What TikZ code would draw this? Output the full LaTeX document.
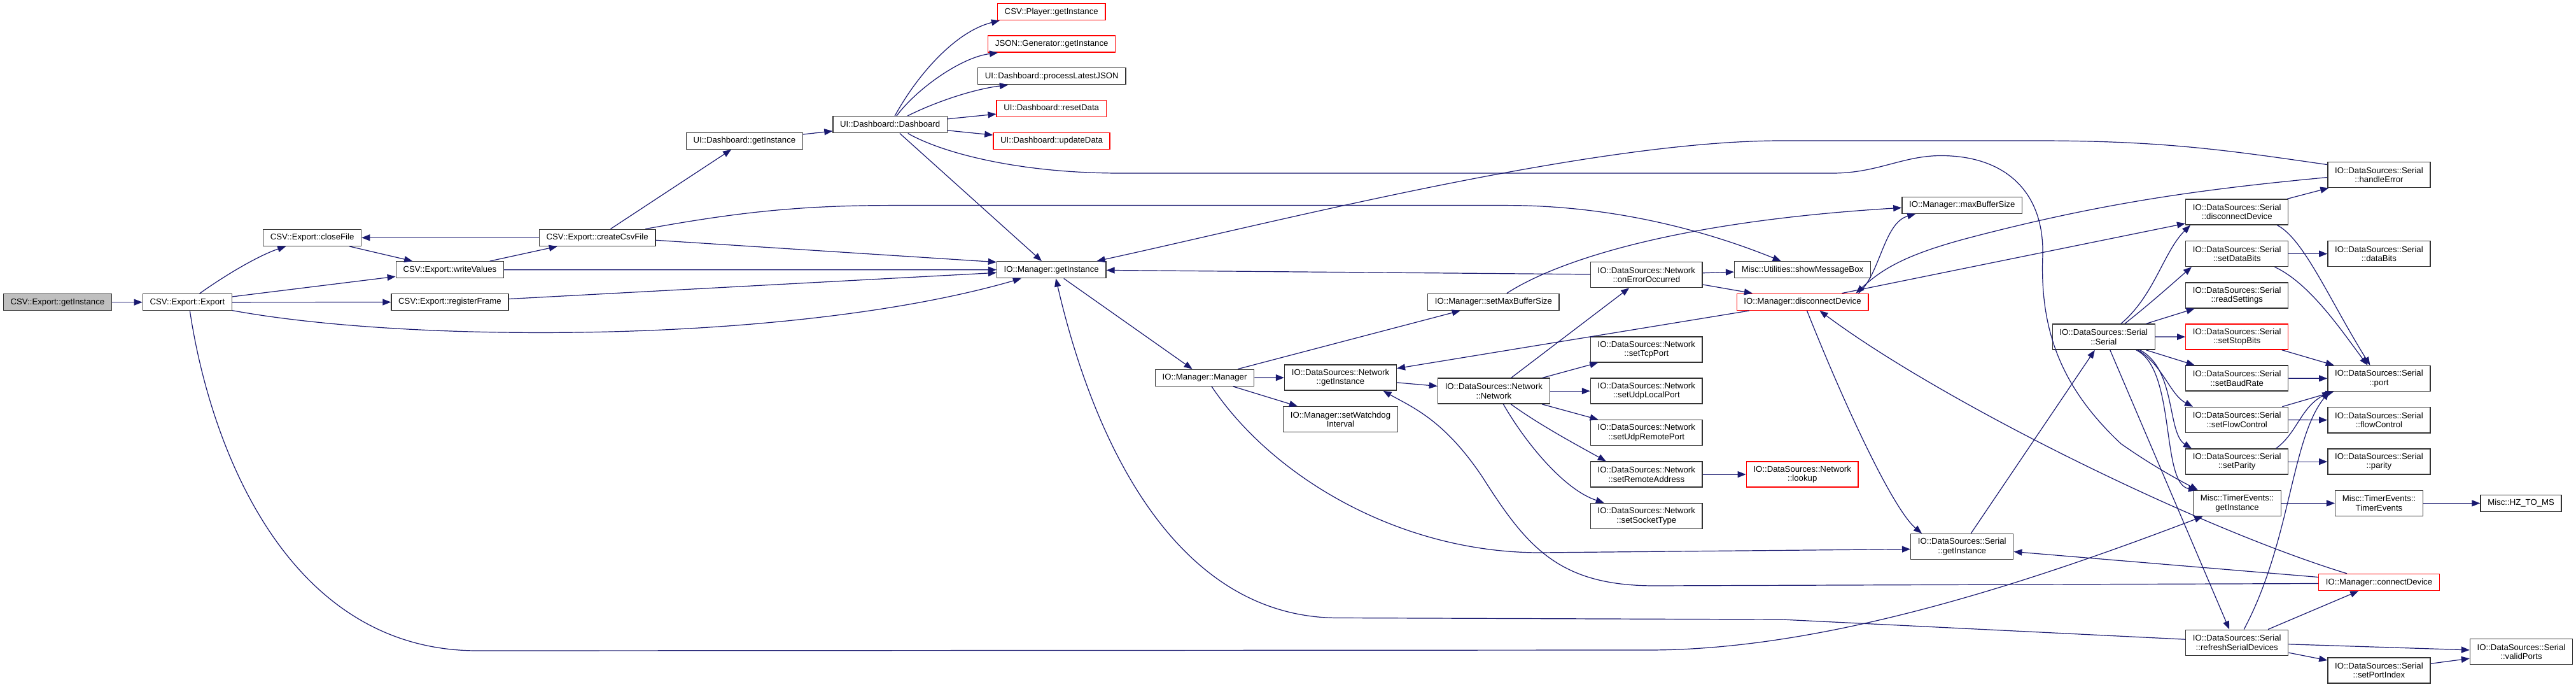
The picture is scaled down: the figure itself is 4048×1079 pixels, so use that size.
\documentclass[tikz,border=0pt]{standalone}
\usepackage{fontspec}
\setmainfont{Liberation Sans}
\usetikzlibrary{arrows.meta,calc}
\definecolor{edgeblue}{HTML}{191970}
\definecolor{bord}{HTML}{333333}
\definecolor{rootfill}{HTML}{BFBFBF}
\begin{document}
\begin{tikzpicture}[x=0.5pt,y=-0.5pt,
 nbase/.style={draw=bord,line width=0.7pt,fill=white,inner xsep=5.6pt,inner ysep=1pt,font=\fontsize{6.6}{7.2}\selectfont,text=black},
 one/.style={nbase,minimum height=13pt,text height=4.9pt,text depth=1.4pt},
 twol/.style={nbase,minimum height=20pt,align=center},
 trunc/.style={draw=red},
 rootn/.style={fill=rootfill},
 ed/.style={draw=edgeblue,line width=0.6pt,-{Triangle[length=6.5pt,width=5pt]}}]
\useasboundingbox[fill=white] (0,0) rectangle (4048,1079);

% ---------- nodes ----------
\node[one,rootn] (gi) at (90.4,474.7) {CSV::Export::getInstance};
\node[one] (ex) at (294.4,474.7) {CSV::Export::Export};
\node[one] (cf) at (490.6,373.3) {CSV::Export::closeFile};
\node[one] (wv) at (706.9,423.8) {CSV::Export::writeValues};
\node[one] (rf) at (707,474.5) {CSV::Export::registerFrame};
\node[one] (cc) at (938.6,373.3) {CSV::Export::createCsvFile};
\node[one] (dgi) at (1169.9,221.3) {UI::Dashboard::getInstance};
\node[one] (db) at (1398.7,195.8) {UI::Dashboard::Dashboard};
\node[one,trunc] (pl) at (1652.2,18.6) {CSV::Player::getInstance};
\node[one,trunc] (js) at (1652.7,69.2) {JSON::Generator::getInstance};
\node[one] (pj) at (1652.7,119.8) {UI::Dashboard::processLatestJSON};
\node[one,trunc] (rd) at (1652.2,170.5) {UI::Dashboard::resetData};
\node[one,trunc] (ud) at (1652.5,221.3) {UI::Dashboard::updateData};
\node[one] (mgi) at (1652.2,423.7) {IO::Manager::getInstance};
\node[one] (mm) at (1893,593.3) {IO::Manager::Manager};
\node[twol] (ngi) at (2106.5,593.1) {IO::DataSources::Network\\::getInstance};
\node[twol] (wd) at (2106.5,658.7) {IO::Manager::setWatchdog\\Interval};
\node[one] (smb) at (2346.9,474.3) {IO::Manager::setMaxBufferSize};
\node[twol] (nn) at (2347.4,614.2) {IO::DataSources::Network\\::Network};
\node[twol] (oe) at (2587.3,431.6) {IO::DataSources::Network\\::onErrorOccurred};
\node[twol] (tcp) at (2587.3,548.9) {IO::DataSources::Network\\::setTcpPort};
\node[twol] (ulp) at (2587.3,614.2) {IO::DataSources::Network\\::setUdpLocalPort};
\node[twol] (urp) at (2587.3,679.7) {IO::DataSources::Network\\::setUdpRemotePort};
\node[twol] (ra) at (2587.3,745.1) {IO::DataSources::Network\\::setRemoteAddress};
\node[twol] (st) at (2587.3,810.4) {IO::DataSources::Network\\::setSocketType};
\node[one] (msg) at (2832.5,423.7) {Misc::Utilities::showMessageBox};
\node[one,trunc] (dd) at (2832.5,474.3) {IO::Manager::disconnectDevice};
\node[twol,trunc] (lk) at (2832.2,745.1) {IO::DataSources::Network\\::lookup};
\node[one] (mbs) at (3083.2,322.3) {IO::Manager::maxBufferSize};
\node[twol] (sgi) at (3083.2,858.5) {IO::DataSources::Serial\\::getInstance};
\node[twol] (ser) at (3305.8,529.1) {IO::DataSources::Serial\\::Serial};
\node[twol] (sdd) at (3515.2,333) {IO::DataSources::Serial\\::disconnectDevice};
\node[twol] (sdb) at (3515.2,398.6) {IO::DataSources::Serial\\::setDataBits};
\node[twol] (rs) at (3515.2,464) {IO::DataSources::Serial\\::readSettings};
\node[twol,trunc] (ssb) at (3515.2,529) {IO::DataSources::Serial\\::setStopBits};
\node[twol] (sbr) at (3515.2,594.2) {IO::DataSources::Serial\\::setBaudRate};
\node[twol] (sfc) at (3515.2,659.4) {IO::DataSources::Serial\\::setFlowControl};
\node[twol] (spa) at (3515.2,725.1) {IO::DataSources::Serial\\::setParity};
\node[twol] (tgi) at (3515.5,790.4) {Misc::TimerEvents::\\getInstance};
\node[twol] (rsd) at (3515.2,1009.2) {IO::DataSources::Serial\\::refreshSerialDevices};
\node[twol] (he) at (3738.4,274.6) {IO::DataSources::Serial\\::handleError};
\node[twol] (dbt) at (3738.4,398.6) {IO::DataSources::Serial\\::dataBits};
\node[twol] (prt) at (3738.4,594.4) {IO::DataSources::Serial\\::port};
\node[twol] (fc) at (3738.4,659.8) {IO::DataSources::Serial\\::flowControl};
\node[twol] (par) at (3738.4,725.1) {IO::DataSources::Serial\\::parity};
\node[twol] (te) at (3738.5,790.4) {Misc::TimerEvents::\\TimerEvents};
\node[one] (hz) at (3961.6,790.4) {Misc::HZ\_TO\_MS};
\node[one,trunc] (cd) at (3738.5,914.5) {IO::Manager::connectDevice};
\node[twol] (spi) at (3738.4,1053) {IO::DataSources::Serial\\::setPortIndex};
\node[twol] (vp) at (3962,1023.5) {IO::DataSources::Serial\\::validPorts};

% ---------- edges ----------
\draw[ed] (gi) -- (ex);
\draw[ed] (ex) .. controls (360,428) and (410,400) .. (cf);
\draw[ed] (ex) -- (wv);
\draw[ed] (ex) -- (rf);
\draw[ed] (ex) .. controls (650,540) and (1250,540) .. (mgi);
\draw[ed] ($(ex.south)+(4,0)$) .. controls (330,700) and (450,1022) .. (750,1022) -- (2590,1021) .. controls (2850,1021) and (3150,930) .. (tgi);
\draw[ed] (wv) -- (cc);
\draw[ed] (wv) -- (mgi);
\draw[ed] (rf) -- (mgi);
\draw[ed] (cc) -- (cf);
\draw[ed] (cf) -- (wv);
\draw[ed] (cc) -- (dgi);
\draw[ed] ($(cc.east)+(0,4)$) -- ($(mgi.west)+(0,-12)$);
\draw[ed] (cc) .. controls (1150,335) and (1250,322.6) .. (1400,322.6) -- (2368,322.6) .. controls (2550,322.6) and (2700,370) .. (msg);
\draw[ed] (dgi) -- (db);
\draw[ed] (db) .. controls (1440,120) and (1500,50) .. ($(pl.south west)+(4,0)$);
\draw[ed] (db) .. controls (1440,140) and (1510,90) .. ($(js.south west)+(16,0)$);
\draw[ed] (db) .. controls (1470,160) and (1530,140) .. ($(pj.south west)+(48,0)$);
\draw[ed] (db) -- (rd);
\draw[ed] (db) -- (ud);
\draw[ed] (db) -- (mgi);
\draw[ed] ($(db.south)+(28,0)$) .. controls (1480,240) and (1600,272) .. (1760,272) -- (2880,272) .. controls (2950,272) and (2990,244.5) .. (3050,244.5) .. controls (3150,244.5) and (3212,300) .. (3210,400) .. controls (3205,520) and (3240,610) .. (3333,697) .. controls (3380,730) and (3420,752) .. ($(tgi.north west)+(8,0)$);
\draw[ed] (mgi) -- (mm);
\draw[ed] (mm) -- (ngi);
\draw[ed] (mm) -- (wd);
\draw[ed] (mm) -- (smb);
\draw[ed] ($(mm.south)+(11,0)$) .. controls (2000,750) and (2200,868) .. (2420,868) -- ($(sgi.west)+(0,4)$);
\draw[ed] (ngi) -- (nn);
\draw[ed] (nn) -- (oe);
\draw[ed] (nn) -- (tcp);
\draw[ed] (nn) -- (ulp);
\draw[ed] (nn) -- (urp);
\draw[ed] ($(nn.south)+(27,0)$) .. controls (2420,668) and (2480,700) .. ($(ra.north west)+(25,0)$);
\draw[ed] ($(nn.south)+(15,0)$) .. controls (2400,700) and (2460,770) .. ($(st.north west)+(22,0)$);
\draw[ed] (ra) -- (lk);
\draw[ed] (oe) -- (msg);
\draw[ed] (oe) -- (dd);
\draw[ed] (oe) -- (mgi);
\draw[ed] (dd) -- (ngi);
\draw[ed] ($(dd.north east)+(-16,0)$) .. controls (2955,430) and (2960,350) .. ($(mbs.south west)+(22,0)$);
\draw[ed] (smb) .. controls (2430,420) and (2600,350) .. ($(mbs.west)+(0,4)$);
\draw[ed] ($(he.west)+(0,-16)$) .. controls (3500,236) and (3400,221) .. (3200,221) -- (2800,221) .. controls (2500,221) and (2000,350) .. ($(mgi.north east)+(-15,0)$);
\draw[ed] ($(he.west)+(0,4)$) .. controls (3450,298) and (3300,320) .. (3100,372) .. controls (3000,398) and (2960,420) .. ($(dd.north east)+(-20,0)$);
\draw[ed] ($(dd.north)+(62,0)$) -- ($(sdd.west)+(0,18)$);
\draw[ed] ($(cd.north west)+(45,0)$) .. controls (3450,828) and (3050,630) .. ($(dd.south)+(27,0)$);
\draw[ed] ($(dd.south)+(7,0)$) .. controls (2900,640) and (2975,800) .. ($(sgi.north west)+(18,0)$);
\draw[ed] (sgi) -- (ser);
\draw[ed] ($(ser.north)+(27,0)$) .. controls (3385,465) and (3400,395) .. ($(sdd.south west)+(8,0)$);
\draw[ed] ($(ser.north)+(33,0)$) .. controls (3380,476) and (3420,440) .. ($(sdb.south west)+(10,0)$);
\draw[ed] (ser) -- (rs);
\draw[ed] (ser) -- (ssb);
\draw[ed] (ser) -- (sbr);
\draw[ed] ($(ser.south)+(54,0)$) .. controls (3400,575) and (3410,620) .. ($(sfc.north west)+(12,0)$);
\draw[ed] ($(ser.south)+(57,0)$) .. controls (3420,580) and (3405,680) .. ($(spa.north west)+(10,0)$);
\draw[ed] ($(ser.south)+(51,0)$) .. controls (3420,580) and (3395,760) .. ($(tgi.north west)+(6,0)$);
\draw[ed] ($(ser.south)+(10,0)$) -- ($(rsd.north)+(-12,0)$);
\draw[ed] (sdd) -- (he);
\draw[ed] ($(sdd.south east)+(-18,0)$) .. controls (3620,375) and (3660,470) .. ($(prt.north)+(-14,0)$);
\draw[ed] (sdb) -- (dbt);
\draw[ed] ($(sdb.south east)+(-22,0)$) .. controls (3630,445) and (3680,520) .. ($(prt.north)+(-18,0)$);
\draw[ed] (ssb) -- (prt);
\draw[ed] (sbr) -- (prt);
\draw[ed] (sfc) -- (prt);
\draw[ed] (sfc) -- (fc);
\draw[ed] ($(spa.north east)+(-20,0)$) .. controls (3610,680) and (3615,640) .. ($(prt.south west)+(5,0)$);
\draw[ed] (spa) -- (par);
\draw[ed] (tgi) -- (te);
\draw[ed] (te) -- (hz);
\draw[ed] ($(rsd.north)+(11,0)$) .. controls (3600,850) and (3600,690) .. ($(prt.south west)+(3,0)$);
\draw[ed] (rsd) -- (cd);
\draw[ed] (rsd) -- (vp);
\draw[ed] (rsd) -- (spi);
\draw[ed] (spi) -- (vp);
\draw[ed] ($(rsd.west)+(0,-5)$) -- (2800,973) -- (2100,970.5) .. controls (1850,968) and (1720,700) .. ($(mgi.south)+(7,0)$);
\draw[ed] ($(cd.west)+(0,2)$) -- (2600,920) .. controls (2450,920) and (2400,860) .. (2330,750) .. controls (2270,660) and (2220,640) .. ($(ngi.south)+(67,0)$);
\draw[ed] ($(cd.west)+(0,-8)$) -- ($(sgi.east)+(0,8)$);
\end{tikzpicture}
\end{document}
